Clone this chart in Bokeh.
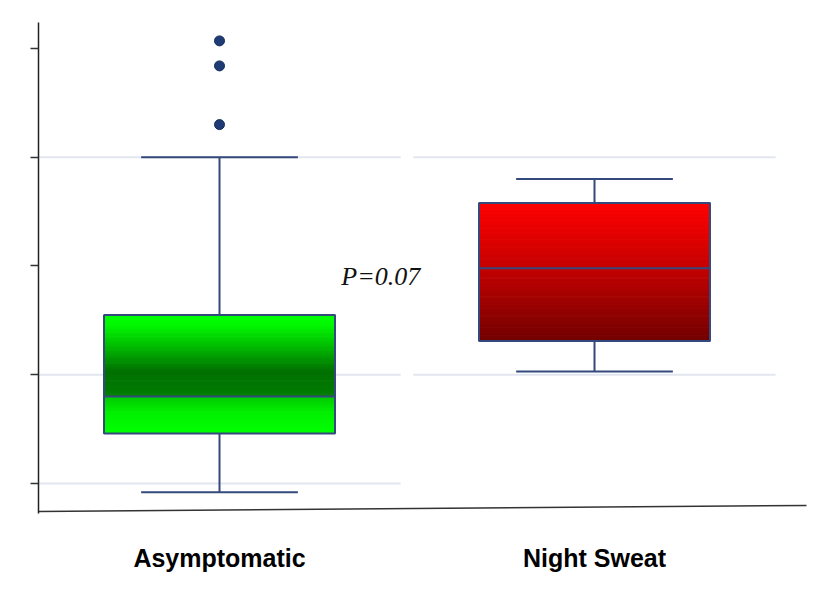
import numpy as np
from bokeh.plotting import figure
from bokeh.models import FixedTicker, Range1d
from bokeh.core.properties import value
from bokeh.embed import file_html
from bokeh.resources import INLINE

# ---- data ----
categories = ["Asymptomatic", "Night Sweat"]
positions = [1, 2]
whisker_low = [-0.08, 1.03]
q1 = [0.46, 1.31]
median = [0.80, 1.98]
q3 = [1.55, 2.58]
whisker_high = [3.00, 2.80]
outlier_pos = [1, 1, 1]
outlier_val = [4.07, 3.84, 3.30]
y_ticks = [0, 1, 2, 3, 4]
grid_left = [0, 1, 3]
grid_right = [1, 3]
p_label = "P=0.07"

# ---- styling ----
BOX_HALF = 0.308
CAP_HALF = 0.209
GRID_HALF = 0.483
NAVY = "#34497c"

X0, X1 = 0.5173, 2.576
Y0, Y1 = -0.276, 4.239

p = figure(width=823, height=592,
           x_range=Range1d(X0, X1), y_range=Range1d(Y0, Y1),
           output_backend="svg", toolbar_location=None,
           min_border_left=38, min_border_top=22,
           min_border_right=13, min_border_bottom=79)
p.grid.visible = False
p.outline_line_color = None
p.background_fill_color = "white"
p.border_fill_color = "white"

# y axis: ticks without labels
p.yaxis.ticker = FixedTicker(ticks=y_ticks)
p.yaxis.major_label_overrides = {t: "" for t in y_ticks}
p.yaxis.major_label_text_color = None
p.yaxis.axis_line_color = "#222222"
p.yaxis.axis_line_width = 1.5
p.yaxis.major_tick_line_color = "#333333"
p.yaxis.major_tick_line_width = 1.5
p.yaxis.major_tick_out = 8
p.yaxis.major_tick_in = 0
p.yaxis.minor_tick_line_color = None

# x axis: category names only
p.xaxis.ticker = FixedTicker(ticks=positions)
p.xaxis.major_label_overrides = {pos: cat for pos, cat in zip(positions, categories)}
p.xaxis.axis_line_color = None
p.xaxis.major_tick_line_color = None
p.xaxis.major_tick_out = 0
p.xaxis.major_tick_in = 0
p.xaxis.minor_tick_line_color = None
p.xaxis.major_label_text_font = "Liberation Sans"
p.xaxis.major_label_text_font_style = "bold"
p.xaxis.major_label_text_font_size = "25px"
p.xaxis.major_label_text_color = "black"
p.xaxis.major_label_standoff = 30

# gridline pieces
gl_x0, gl_x1, gl_y = [], [], []
for lev in grid_left:
    gl_x0.append(positions[0] - GRID_HALF); gl_x1.append(positions[0] + GRID_HALF); gl_y.append(lev)
for lev in grid_right:
    gl_x0.append(positions[1] - GRID_HALF); gl_x1.append(positions[1] + GRID_HALF); gl_y.append(lev)
p.segment(x0=gl_x0, y0=gl_y, x1=gl_x1, y1=gl_y, line_color="#e2e6ef", line_width=2)

# slanted baseline (x axis line)
p.segment(x0=[X0], y0=[-0.2575], x1=[2.5653], y1=[-0.2023], line_color="#333333", line_width=1.5)

# whiskers
p.segment(x0=positions, y0=q3, x1=positions, y1=whisker_high, line_color=NAVY, line_width=2)
p.segment(x0=positions, y0=q1, x1=positions, y1=whisker_low, line_color=NAVY, line_width=2)
p.segment(x0=[x - CAP_HALF for x in positions], y0=whisker_high,
          x1=[x + CAP_HALF for x in positions], y1=whisker_high, line_color=NAVY, line_width=2)
p.segment(x0=[x - CAP_HALF for x in positions], y0=whisker_low,
          x1=[x + CAP_HALF for x in positions], y1=whisker_low, line_color=NAVY, line_width=2)


def interp_color(stops, f):
    fs = [s[0] for s in stops]
    rgb = []
    for k in range(3):
        rgb.append(int(round(np.interp(f, fs, [s[1][k] for s in stops]))))
    return "#%02x%02x%02x" % tuple(rgb)


def gradient(x, top, bottom, stops, n):
    L, R, B, T, C = [], [], [], [], []
    edges = np.linspace(top, bottom, n + 1)
    for i in range(n):
        f = (i + 0.5) / n
        L.append(x - BOX_HALF); R.append(x + BOX_HALF)
        T.append(edges[i]); B.append(edges[i + 1])
        C.append(interp_color(stops, f))
    return L, R, B, T, C


green_upper = [(0, (0, 255, 0)), (0.12, (0, 250, 0)), (0.4, (0, 185, 0)), (0.7, (0, 112, 0)), (1, (0, 125, 0))]
green_lower = [(0, (0, 200, 0)), (0.45, (0, 240, 0)), (1, (0, 255, 0))]
red_all = [(0, (255, 0, 0)), (0.45, (200, 0, 0)), (1, (115, 0, 0))]

parts = [
    gradient(positions[0], q3[0], median[0], green_upper, 50),
    gradient(positions[0], median[0], q1[0], green_lower, 30),
    gradient(positions[1], q3[1], q1[1], red_all, 80),
]
for L, R, B, T, C in parts:
    p.quad(left=L, right=R, bottom=B, top=T, fill_color=C, line_color=C, line_width=1)

# box outlines and medians
p.quad(left=[x - BOX_HALF for x in positions], right=[x + BOX_HALF for x in positions],
       bottom=q1, top=q3, fill_color=None, line_color=NAVY, line_width=2)
p.segment(x0=[x - BOX_HALF for x in positions], y0=median,
          x1=[x + BOX_HALF for x in positions], y1=median, line_color=NAVY, line_width=2)

# outliers
p.scatter(outlier_pos, outlier_val, size=10, fill_color="#1f3b73", line_color="#172f5e", line_width=1)

# p-value annotation
p.text(x=[1.43], y=[1.90], text=[p_label], text_font=value("Liberation Serif"),
       text_font_style="italic", text_font_size="26px", text_color="#111111",
       text_align="center", text_baseline="alphabetic")

open("out.html", "w").write(file_html(p, INLINE))
